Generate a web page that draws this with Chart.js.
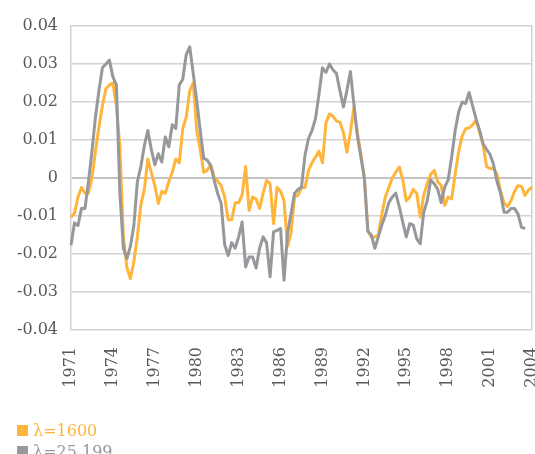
<!DOCTYPE html>
<html>
<head>
<meta charset="utf-8">
<script src="https://cdn.jsdelivr.net/npm/chart.js@4"></script>
<style>
  body { margin: 0; background: #fff; }
  #wrap { position: relative; width: 535px; height: 454px; overflow: hidden; }
  #legend { position: absolute; left: 17px; top: 420px; font-family: 'DejaVu Serif', serif; font-size: 16px; }
  .item { display: flex; align-items: center; height: 21px; white-space: nowrap; }
  .box { width: 11px; height: 11px; margin-right: 5px; }
</style>
</head>
<body>
<div id="wrap">
  <canvas id="chart" width="535" height="454"></canvas>
  <div id="legend"></div>
</div>
<script>
// quarterly, 1971Q1 .. 2004Q1
const startYear = 1971;
const tickYears = ['1971', '1974', '1977', '1980', '1983', '1986', '1989', '1992', '1995', '1998', '2001', '2004'];

const seriesNames = ['λ=1600', 'λ=25.199'];
const seriesColors = ['#ffb53b', '#97989c'];

// one row per year (4 quarters)
const lambda1600 = [
  -0.0103, -0.0093, -0.005, -0.0025,
  -0.004, -0.004, 0.0, 0.007,
  0.0135, 0.019, 0.0235, 0.0245,
  0.025, 0.019, 0.008, -0.0155,
  -0.0235, -0.0265, -0.022, -0.0155,
  -0.007, -0.003, 0.005, 0.0015,
  -0.002, -0.0067, -0.0035, -0.004,
  -0.001, 0.0015, 0.005, 0.004,
  0.013, 0.016, 0.023, 0.025,
  0.0125, 0.0075, 0.0015, 0.002,
  0.0035, 0.0002, -0.0008, -0.002,
  -0.005, -0.011, -0.011, -0.0065,
  -0.0065, -0.0045, 0.003, -0.0085,
  -0.005, -0.0055, -0.008, -0.004,
  -0.0006, -0.0015, -0.012, -0.0025,
  -0.0035, -0.006, -0.018, -0.0145,
  -0.005, -0.0045, -0.0026, -0.0025,
  0.002, 0.004, 0.0055, 0.007,
  0.004, 0.0145, 0.0168, 0.0163,
  0.015, 0.0147, 0.012, 0.0068,
  0.012, 0.0185, 0.012, 0.0064,
  0.0, -0.014, -0.0155, -0.0155,
  -0.015, -0.0095, -0.005, -0.0025,
  0.0, 0.0015, 0.0029, -0.0005,
  -0.006, -0.005, -0.003, -0.004,
  -0.0103, -0.0045, -0.0015, 0.001,
  0.002, -0.001, -0.002, -0.0072,
  -0.005, -0.0055, 0.001, 0.007,
  0.011, 0.013, 0.0132, 0.014,
  0.0152, 0.012, 0.0086, 0.003,
  0.0025, 0.0025, 0.001, -0.0035,
  -0.0065, -0.0075, -0.006, -0.0035,
  -0.002, -0.0022, -0.0046, -0.0032,
  -0.0024
];

const lambda25199 = [
  -0.0177, -0.0118, -0.0125, -0.008,
  -0.008, -0.001, 0.007, 0.016,
  0.023, 0.029, 0.030, 0.031,
  0.0266, 0.0245, -0.004, -0.0185,
  -0.0212, -0.018, -0.0125, -0.001,
  0.003, 0.0085, 0.0125, 0.0075,
  0.0035, 0.0064, 0.0042, 0.0108,
  0.0082, 0.014, 0.013, 0.0245,
  0.026, 0.0325, 0.0345, 0.0275,
  0.0204, 0.0125, 0.0052, 0.0047,
  0.0033, -0.0006, -0.0041, -0.0067,
  -0.0175, -0.0204, -0.017, -0.0185,
  -0.0155, -0.0116, -0.0234, -0.0208,
  -0.0208, -0.0237, -0.0185, -0.0155,
  -0.017, -0.026, -0.0142, -0.0138,
  -0.0133, -0.0269, -0.0146, -0.0094,
  -0.0041, -0.003, -0.0024, 0.006,
  0.0104, 0.0125, 0.0156, 0.022,
  0.029, 0.0278, 0.030, 0.0285,
  0.0275, 0.023, 0.0187, 0.023,
  0.028, 0.0195, 0.011, 0.0055,
  0.0, -0.014, -0.015, -0.0185,
  -0.0155, -0.0124, -0.0098, -0.0065,
  -0.005, -0.004, -0.0076, -0.0116,
  -0.0155, -0.012, -0.0124, -0.016,
  -0.0173, -0.009, -0.006, -0.0005,
  -0.0015, -0.003, -0.0065, -0.0024,
  -0.0005, 0.0055, 0.0125, 0.0174,
  0.02, 0.0196, 0.0225, 0.019,
  0.0155, 0.0125, 0.009, 0.0075,
  0.0062, 0.0035, -0.001, -0.004,
  -0.009, -0.009, -0.008, -0.008,
  -0.0095, -0.013, -0.0133, null,
  null
];

document.addEventListener('DOMContentLoaded', function() {
  const labels = lambda1600.map((v, i) => (startYear + Math.floor(i / 4)) + 'Q' + (i % 4 + 1));
  const gridColor = '#d2d2d2';
  const textColor = '#595959';
  const tickFont = { family: "'DejaVu Serif', serif", size: 16 };

  const ctx = document.getElementById('chart').getContext('2d');
  new Chart(ctx, {
    type: 'line',
    data: {
      labels: labels,
      datasets: [
        { label: seriesNames[0], data: lambda1600, borderColor: seriesColors[0], backgroundColor: seriesColors[0], order: 1 },
        { label: seriesNames[1], data: lambda25199, borderColor: seriesColors[1], backgroundColor: seriesColors[1], order: 0 }
      ]
    },
    options: {
      responsive: false,
      animation: false,
      devicePixelRatio: 1,
      layout: { padding: { top: 26, right: 3, left: 0, bottom: 0 } },
      elements: {
        line: { borderWidth: 3, tension: 0, borderJoinStyle: 'round' },
        point: { radius: 0, hoverRadius: 0 }
      },
      plugins: { legend: { display: false }, tooltip: { enabled: false } },
      scales: {
        x: {
          type: 'category',
          offset: false,
          border: { display: false },
          grid: {
            drawTicks: false,
            lineWidth: 1.5,
            // only the right-hand frame line
            color: c => (c.index === labels.length - 1 ? gridColor : 'transparent')
          },
          ticks: {
            autoSkip: false,
            minRotation: 90,
            maxRotation: 90,
            padding: 17,
            color: textColor,
            font: tickFont,
            callback: (value, index) => (index % 12 === 0 ? tickYears[index / 12] : '')
          },
          afterFit: scale => {
            scale.height = 124;
            scale.paddingLeft = 0;
            scale.paddingRight = 0;
          }
        },
        y: {
          min: -0.04,
          max: 0.04,
          border: { display: true, color: gridColor, width: 1.5 },
          grid: {
            drawTicks: false,
            color: c => (c.tick && c.tick.value === 0 ? '#c4c4c4' : gridColor),
            lineWidth: c => (c.tick && c.tick.value === 0 ? 2 : 1.5)
          },
          ticks: {
            stepSize: 0.01,
            padding: 13,
            color: textColor,
            font: tickFont,
            callback: v => String(Number(v.toFixed(2)))
          },
          afterFit: scale => { scale.width = 71; }
        }
      }
    }
  });

  const legend = document.getElementById('legend');
  seriesNames.forEach((name, i) => {
    const item = document.createElement('div');
    item.className = 'item';
    item.style.color = seriesColors[i];
    const box = document.createElement('span');
    box.className = 'box';
    box.style.background = seriesColors[i];
    item.appendChild(box);
    item.appendChild(document.createTextNode(name));
    legend.appendChild(item);
  });
});
</script>
</body>
</html>
